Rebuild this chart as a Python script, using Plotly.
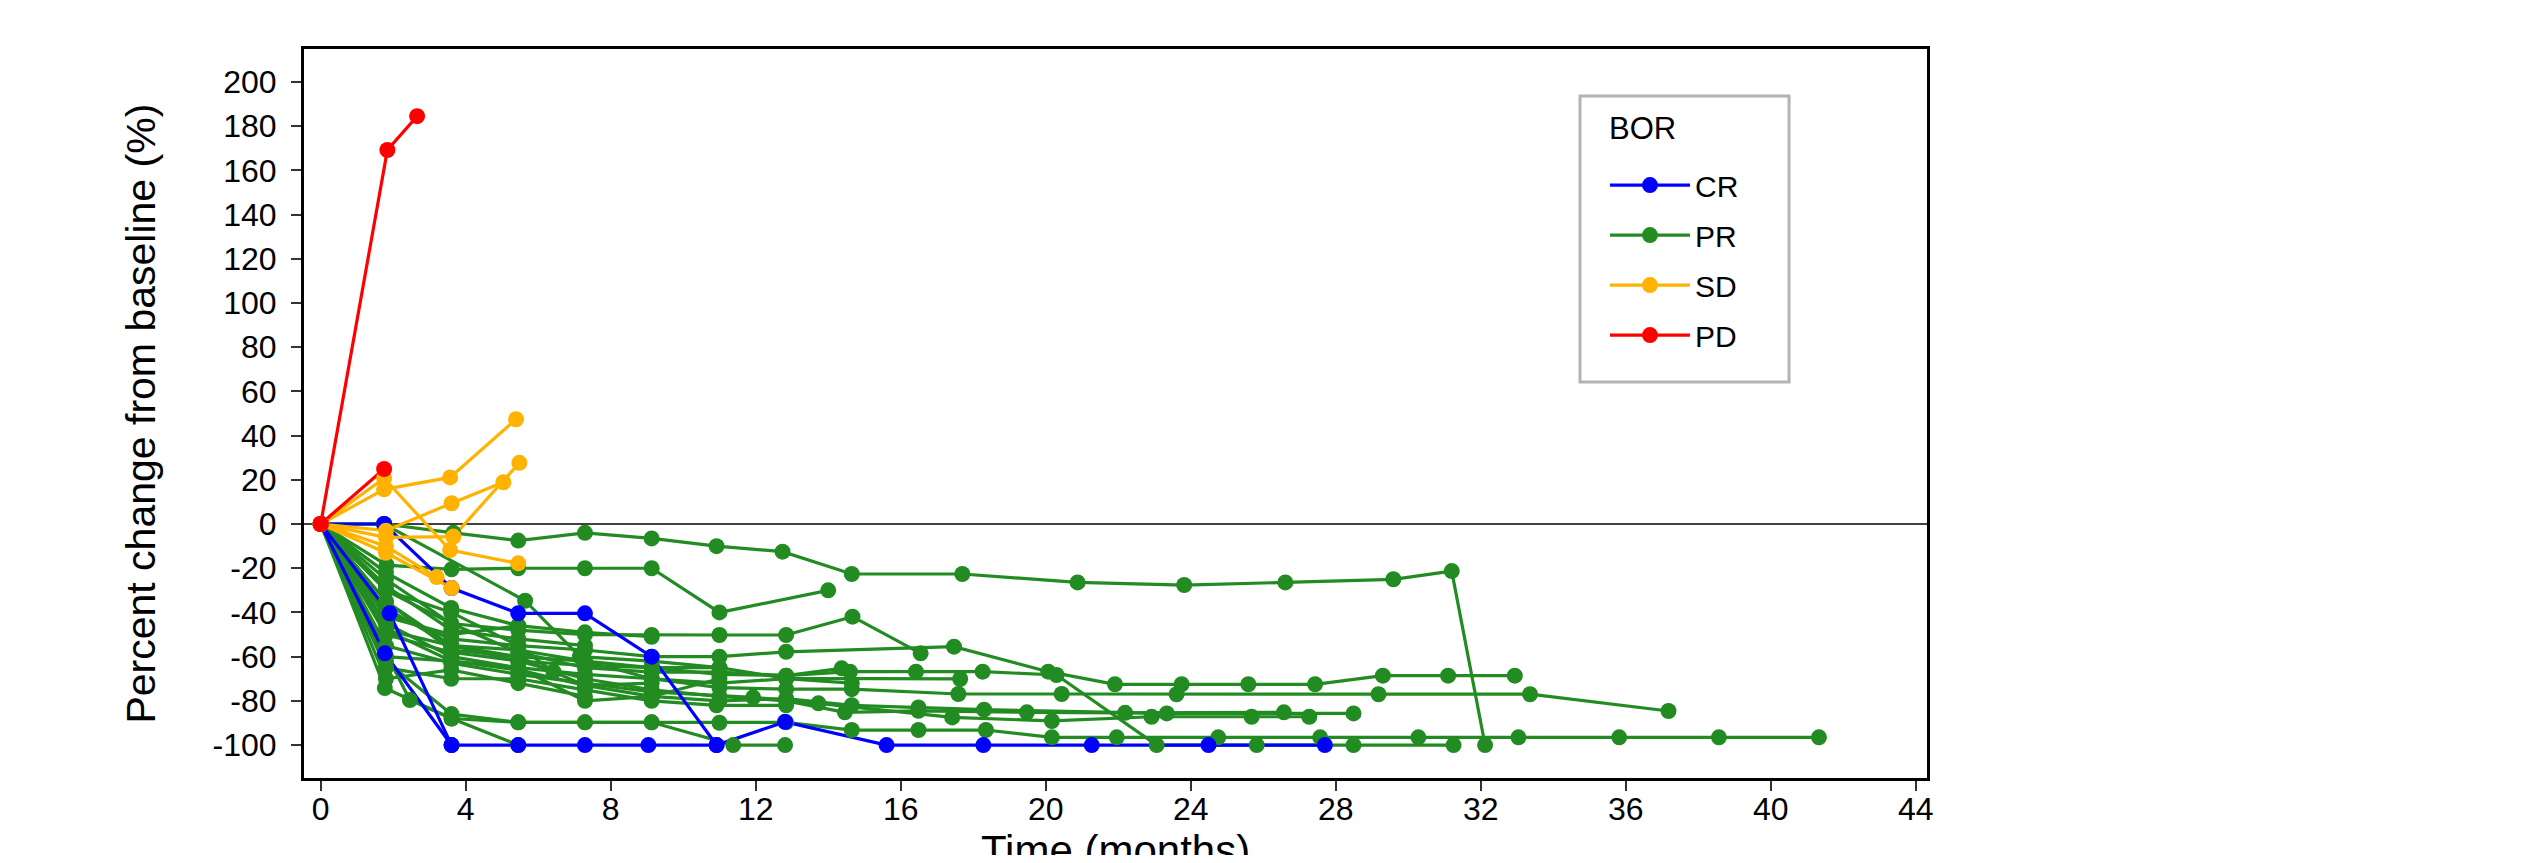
import plotly.graph_objects as go

# ---------------- data ----------------
categories = ["CR", "PR", "SD", "PD"]
colors = {"CR": "#0000FF", "PR": "#228B22", "SD": "#FFB300", "PD": "#FF0000"}

cr_times = [
    [0, 1.75, 3.61, 5.45, 7.29, 9.13, 10.92],
    [0, 1.77, 3.61, 5.45, 7.29, 9.04, 10.92, 12.81, 15.61, 18.28, 21.27, 24.49, 27.7],
    [0, 1.9, 3.61],
]
cr_values = [
    [0, 0, -29, -40.4, -40.4, -60, -100],
    [0, -58.5, -100, -100, -100, -100, -100, -89.5, -100, -100, -100, -100, -100],
    [0, -40.4, -100],
]

pr_times = [
    [0, 1.75, 3.66, 5.45, 7.29, 9.13, 10.92, 12.74, 14.65, 17.7, 20.88, 23.82, 26.61, 29.59, 31.2, 32.12],
    [0, 1.82, 3.61, 5.45, 7.29, 9.13, 11.0, 14.0],
    [0, 2.46, 3.61, 5.45, 7.29, 9.13, 11.0, 12.84, 14.65, 16.49, 18.35, 20.17, 21.96, 24.76, 27.57, 30.28, 33.04, 35.82, 38.57, 41.33],
    [0, 1.77, 3.61, 5.45],
    [0, 1.8, 3.61, 5.45, 7.29, 9.13, 11.38, 12.81],
    [0, 1.8, 3.6, 5.45, 7.29, 9.13, 11.0, 12.84, 14.6, 16.42, 18.26, 20.3, 23.06, 25.82, 28.49, 31.25],
    [0, 1.8, 3.6, 5.45, 7.29, 9.13, 11.0, 12.84, 14.67, 16.55],
    [0, 1.8, 3.6, 5.45, 7.29, 9.13, 11.0, 12.84, 17.47, 20.07, 21.91, 23.75, 25.59, 27.43, 29.3, 31.1, 32.94],
    [0, 1.8, 3.6, 5.45, 7.29, 9.13, 11.0, 12.84, 14.65, 17.59, 20.44, 23.61, 29.18, 33.36, 37.18],
    [0, 1.8, 3.6, 5.45, 7.29, 9.13, 11.0, 12.84, 17.64],
    [0, 1.8, 3.6, 5.45, 7.29, 9.13, 11.0, 12.84, 14.46, 16.49, 19.48, 22.19, 26.57],
    [0, 1.8, 3.6, 5.45, 7.29, 9.13, 11.93, 13.73, 17.42, 20.17, 22.92, 25.68, 27.27],
    [0, 1.8, 3.6, 5.45, 7.29, 9.13, 11.0, 12.84, 14.65, 16.49, 18.3, 23.34, 28.49],
    [0, 1.75, 5.64, 7.15, 9.13, 11.0],
    [0, 1.8, 3.6, 5.45, 7.29],
    [0, 1.8, 3.6, 5.45, 7.29, 9.13],
    [0, 1.8, 3.6, 5.45],
    [0, 1.8, 3.6, 5.45, 6.42],
    [0, 1.8, 3.6, 5.45, 7.29, 9.13, 11.0],
    [0, 1.8, 3.6, 5.45, 7.29, 9.13, 11.0, 12.84, 14.37],
    [0, 1.8, 3.6, 5.45, 7.29, 9.13, 11.0, 12.84, 14.65],
    [0, 1.8, 3.6, 5.45, 7.29, 9.13, 10.92, 12.84],
    [0, 1.8, 3.6, 5.45, 7.29, 9.13],
    [0, 1.8, 3.6, 5.45, 7.29],
]
pr_values = [
    [0, 0, -4, -7.5, -4, -6.5, -10, -12.5, -22.6, -22.6, -26.4, -27.6, -26.4, -25, -21.3, -100],
    [0, -18.6, -20.5, -20, -20, -20, -40, -30],
    [0, -79.6, -88, -89.7, -89.7, -89.7, -89.9, -89.7, -93.2, -93.2, -93.2, -96.5, -96.5, -96.5, -96.5, -96.5, -96.5, -96.5, -96.5, -96.5],
    [0, -74.2, -88, -100],
    [0, -62, -86, -89.7, -89.7, -89.7, -100, -100],
    [0, -35, -55, -60, -62, -65, -68, -68.6, -66.8, -66.8, -66.8, -68.3, -100, -100, -100, -100],
    [0, -30, -45, -48, -50, -50.2, -50.2, -50.2, -41.9, -58.5],
    [0, -40, -52, -55, -57, -60, -60, -57.8, -55.5, -66.8, -72.5, -72.5, -72.5, -72.5, -68.6, -68.6, -68.6],
    [0, -45, -60, -65, -68, -70, -74, -74.7, -74.7, -76.9, -76.9, -77, -77, -77, -84.6],
    [0, -50, -58, -62, -64, -65, -65, -69.8, -70.1],
    [0, -38, -55, -62, -70, -75, -78, -80, -85.2, -84.5, -85.2, -85.4, -85.2],
    [0, -55, -63, -68, -72, -76, -78.4, -81.1, -87.5, -89.1, -87.2, -87.2, -87.2],
    [0, -48, -62, -66, -73, -78, -80, -79, -82, -83, -84, -85.7, -85.7],
    [0, 0, -34.7, -60, -62, -65],
    [0, -28, -48, -52, -55],
    [0, -35, -57, -60, -73, -72],
    [0, -42, -50, -46],
    [0, -30, -40, -55, -66.8],
    [0, -60, -62, -65, -80, -78, -70],
    [0, -25, -45, -58, -65, -67, -67, -68.6, -65.3],
    [0, -48, -55, -57, -62, -70, -72, -70, -72],
    [0, -65, -70, -70, -75, -80, -82, -82],
    [0, -22, -38, -46, -49, -51],
    [0, -70, -66, -72, -78],
]

sd_times = [
    [0, 1.75, 3.57, 5.39],
    [0, 1.8, 3.61, 5.04],
    [0, 1.75, 3.57, 5.45],
    [0, 1.8, 3.66, 5.48],
    [0, 1.8, 3.2],
    [0, 1.8, 3.61],
]
sd_values = [
    [0, 15.7, 21.1, 47.4],
    [0, -3, 9.4, 18.9],
    [0, 20.7, -11.8, -17.8],
    [0, -6, -5.7, 27.7],
    [0, -10, -24],
    [0, -13, -29],
]

pd_times = [
    [0, 1.84, 2.66],
    [0, 1.75],
]
pd_values = [
    [0, 169.2, 184.5],
    [0, 24.9],
]

x_ticks = list(range(0, 45, 4))
y_ticks = list(range(-100, 201, 20))

# ---------------- figure ----------------
FONT = "Liberation Sans, Arial, Helvetica, sans-serif"
LW = 3.2
MS = 16
fig = go.Figure()

groups = [
    ("PR", pr_times, pr_values),
    ("CR", cr_times, cr_values),
    ("SD", sd_times, sd_values),
    ("PD", pd_times, pd_values),
]

# line layer first (as in ggplot geom_line), then point layer
for cat, ts, vs in groups:
    for t, v in zip(ts, vs):
        fig.add_trace(go.Scatter(
            x=t, y=v, mode="lines", legendgroup=cat, showlegend=False,
            line=dict(color=colors[cat], width=LW), hoverinfo="skip"))
for cat, ts, vs in groups:
    for t, v in zip(ts, vs):
        fig.add_trace(go.Scatter(
            x=t, y=v, mode="markers", legendgroup=cat, showlegend=False,
            marker=dict(color=colors[cat], size=MS, line=dict(width=0)),
            name=cat))

# legend entries
for cat in categories:
    fig.add_trace(go.Scatter(
        x=[None], y=[None], mode="lines+markers", name=cat, legendgroup=cat,
        line=dict(color=colors[cat], width=LW),
        marker=dict(color=colors[cat], size=MS)))

# zero reference line
fig.add_shape(type="line", xref="paper", yref="y", x0=0, x1=1, y0=0, y1=0,
              line=dict(color="black", width=1.6), layer="below")

# legend frame
fig.add_shape(type="rect", xref="paper", yref="paper",
              x0=0.7862, x1=0.9150, y0=0.5432, y1=0.9355,
              line=dict(color="#B3B3B3", width=3), fillcolor="white", layer="above")

axis_common = dict(
    showgrid=False, zeroline=False, showline=True, linecolor="black",
    linewidth=3, mirror=True, ticks="outside", ticklen=10, tickwidth=2,
    tickcolor="#333333", tickfont=dict(family=FONT, size=32, color="black"),
)

fig.update_xaxes(range=[-0.46, 44.31], tickvals=x_ticks, ticktext=[str(v) for v in x_ticks],
                 ticklabelstandoff=-9, **axis_common)
fig.update_yaxes(range=[-114.9, 214.9], tickvals=y_ticks, ticktext=[str(v) for v in y_ticks],
                 ticklabelstandoff=8, **axis_common)

fig.add_annotation(text="Time (months)", xref="paper", yref="paper", x=0.5, y=-0.1,
                   xanchor="center", yanchor="middle", showarrow=False,
                   font=dict(family=FONT, size=42, color="black"))
fig.add_annotation(text="Percent change from baseline (%)", xref="paper", yref="paper",
                   x=-0.101, y=0.5, xanchor="center", yanchor="middle", textangle=-90,
                   showarrow=False, font=dict(family=FONT, size=41, color="black"))
fig.add_annotation(text="BOR", xref="paper", yref="paper", x=0.8028, y=0.8916,
                   xanchor="left", yanchor="middle", showarrow=False,
                   font=dict(family=FONT, size=31, color="black"))

fig.update_layout(
    width=2528, height=847,
    margin=dict(l=296, r=609, t=41, b=77, autoexpand=False),
    plot_bgcolor="white", paper_bgcolor="white",
    font=dict(family=FONT, color="black"),
    legend=dict(
        font=dict(family=FONT, size=30, color="black"),
        x=0.8016, y=0.849, xanchor="left", yanchor="top",
        bgcolor="rgba(0,0,0,0)", borderwidth=0,
        tracegroupgap=8, itemwidth=80,
    ),
)

fig.write_html("out.html")
